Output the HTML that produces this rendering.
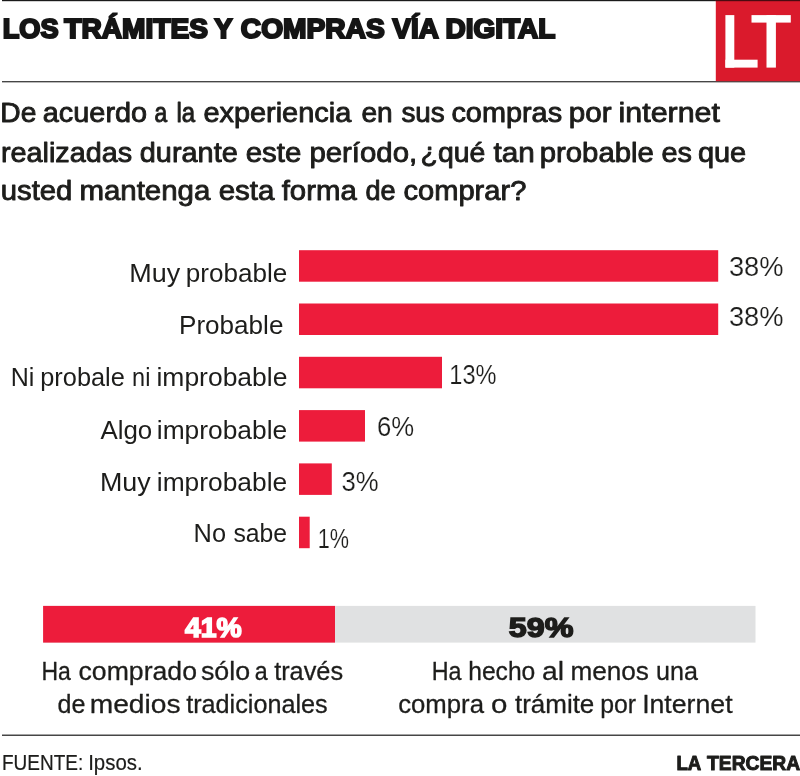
<!DOCTYPE html>
<html lang="es"><head><meta charset="utf-8"><title>Los trámites y compras vía digital</title>
<style>
html,body{margin:0;padding:0;background:#fff;}
body{width:800px;height:776px;overflow:hidden;font-family:"Liberation Sans",sans-serif;}
svg{display:block;}
svg text{font-family:"Liberation Sans",sans-serif;white-space:pre;}
</style></head>
<body>
<svg width="800" height="776" viewBox="0 0 800 776">
<rect x="0" y="0" width="800" height="776" fill="#ffffff"/>
<rect x="2" y="0" width="798" height="1.2" fill="#1a1a1a"/>
<rect x="2" y="81.2" width="798" height="1.1" fill="#1a1a1a"/>
<rect x="715.8" y="0" width="84.2" height="81.2" fill="#da1a2c"/>
<rect x="715.8" y="0" width="84.2" height="1.2" fill="#4a0a10"/>
<rect x="725.4" y="15.1" width="8.9" height="52.5" fill="#fff"/>
<rect x="725.4" y="59.7" width="32.2" height="7.9" fill="#fff"/>
<rect x="751.5" y="15.1" width="39.3" height="7.5" fill="#fff"/>
<rect x="766.5" y="15.1" width="9.4" height="52.5" fill="#fff"/>
<rect x="299" y="250.2" width="419.2" height="31.5" fill="#ed1c3b"/>
<rect x="299" y="303.5" width="419.2" height="31.5" fill="#ed1c3b"/>
<rect x="299" y="356.8" width="143" height="31.5" fill="#ed1c3b"/>
<rect x="299" y="410.1" width="66" height="31.5" fill="#ed1c3b"/>
<rect x="299" y="463.4" width="32.8" height="31.5" fill="#ed1c3b"/>
<rect x="299" y="516.7" width="10.7" height="31.5" fill="#ed1c3b"/>
<rect x="43.1" y="605.9" width="712.4" height="36.7" fill="#e0e1e2"/>
<rect x="43.1" y="605.9" width="291.9" height="36.7" fill="#ed1c3b"/>
<rect x="2" y="734.6" width="798" height="1.2" fill="#1a1a1a"/>
<g id="labels" style="will-change:transform">
<text transform="translate(2.74 38.45) scale(1.0090 1)" font-size="26.89" font-weight="bold" fill="#151515" stroke="#151515" stroke-width="2.091" stroke-linejoin="miter" stroke-miterlimit="2.5">LOS</text>
<text transform="translate(64.25 38.45) scale(1.0452 1)" font-size="26.89" font-weight="bold" fill="#151515" stroke="#151515" stroke-width="2.054" stroke-linejoin="miter" stroke-miterlimit="2.5">TRÁMITES</text>
<text transform="translate(214.45 38.45) scale(1.0000 1)" font-size="26.89" font-weight="bold" fill="#151515" stroke="#151515" stroke-width="2.100" stroke-linejoin="miter" stroke-miterlimit="2.5">Y</text>
<text transform="translate(240.80 38.45) scale(1.0477 1)" font-size="26.89" font-weight="bold" fill="#151515" stroke="#151515" stroke-width="2.051" stroke-linejoin="miter" stroke-miterlimit="2.5">COMPRAS</text>
<text transform="translate(392.55 38.45) scale(1.0317 1)" font-size="26.89" font-weight="bold" fill="#151515" stroke="#151515" stroke-width="2.067" stroke-linejoin="miter" stroke-miterlimit="2.5">VÍA</text>
<text transform="translate(445.51 38.45) scale(1.0416 1)" font-size="26.89" font-weight="bold" fill="#151515" stroke="#151515" stroke-width="2.057" stroke-linejoin="miter" stroke-miterlimit="2.5">DIGITAL</text>
<text transform="translate(0.30 122.05) scale(1.0263 1)" font-size="27.47" font-weight="normal" fill="#1d1d1b" stroke="#1d1d1b" stroke-width="0.888" stroke-linejoin="round">De</text>
<text transform="translate(42.80 122.05) scale(1.0511 1)" font-size="27.47" font-weight="normal" fill="#1d1d1b" stroke="#1d1d1b" stroke-width="0.878" stroke-linejoin="round">acuerdo</text>
<text transform="translate(154.62 122.05) scale(0.8267 1)" font-size="27.47" font-weight="normal" fill="#1d1d1b" stroke="#1d1d1b" stroke-width="0.985" stroke-linejoin="round">a</text>
<text transform="translate(176.38 122.05) scale(0.8719 1)" font-size="27.47" font-weight="normal" fill="#1d1d1b" stroke="#1d1d1b" stroke-width="0.962" stroke-linejoin="round">la</text>
<text transform="translate(203.40 122.05) scale(1.0527 1)" font-size="27.47" font-weight="normal" fill="#1d1d1b" stroke="#1d1d1b" stroke-width="0.877" stroke-linejoin="round">experiencia</text>
<text transform="translate(361.43 122.05) scale(1.0220 1)" font-size="27.47" font-weight="normal" fill="#1d1d1b" stroke="#1d1d1b" stroke-width="0.890" stroke-linejoin="round">en</text>
<text transform="translate(401.45 122.05) scale(1.0140 1)" font-size="27.47" font-weight="normal" fill="#1d1d1b" stroke="#1d1d1b" stroke-width="0.894" stroke-linejoin="round">sus</text>
<text transform="translate(451.40 122.05) scale(1.0512 1)" font-size="27.47" font-weight="normal" fill="#1d1d1b" stroke="#1d1d1b" stroke-width="0.878" stroke-linejoin="round">compras</text>
<text transform="translate(568.87 122.05) scale(1.0790 1)" font-size="27.47" font-weight="normal" fill="#1d1d1b" stroke="#1d1d1b" stroke-width="0.866" stroke-linejoin="round">por</text>
<text transform="translate(618.54 122.05) scale(1.1067 1)" font-size="27.47" font-weight="normal" fill="#1d1d1b" stroke="#1d1d1b" stroke-width="0.854" stroke-linejoin="round">internet</text>
<text transform="translate(0.90 161.55) scale(1.0480 1)" font-size="27.47" font-weight="normal" fill="#1d1d1b" stroke="#1d1d1b" stroke-width="0.879" stroke-linejoin="round">realizadas</text>
<text transform="translate(139.80 161.55) scale(1.0513 1)" font-size="27.47" font-weight="normal" fill="#1d1d1b" stroke="#1d1d1b" stroke-width="0.877" stroke-linejoin="round">durante</text>
<text transform="translate(245.78 161.55) scale(1.0702 1)" font-size="27.47" font-weight="normal" fill="#1d1d1b" stroke="#1d1d1b" stroke-width="0.869" stroke-linejoin="round">este</text>
<text transform="translate(309.38 161.55) scale(1.0707 1)" font-size="27.47" font-weight="normal" fill="#1d1d1b" stroke="#1d1d1b" stroke-width="0.869" stroke-linejoin="round">período,</text>
<text transform="translate(420.62 161.55) scale(1.0337 1)" font-size="27.47" font-weight="normal" fill="#1d1d1b" stroke="#1d1d1b" stroke-width="0.885" stroke-linejoin="round">¿qué</text>
<text transform="translate(493.45 161.55) scale(1.0811 1)" font-size="27.47" font-weight="normal" fill="#1d1d1b" stroke="#1d1d1b" stroke-width="0.865" stroke-linejoin="round">tan</text>
<text transform="translate(539.78 161.55) scale(1.0669 1)" font-size="27.47" font-weight="normal" fill="#1d1d1b" stroke="#1d1d1b" stroke-width="0.871" stroke-linejoin="round">probable</text>
<text transform="translate(661.40 161.55) scale(1.0485 1)" font-size="27.47" font-weight="normal" fill="#1d1d1b" stroke="#1d1d1b" stroke-width="0.879" stroke-linejoin="round">es</text>
<text transform="translate(697.90 161.55) scale(1.0549 1)" font-size="27.47" font-weight="normal" fill="#1d1d1b" stroke="#1d1d1b" stroke-width="0.876" stroke-linejoin="round">que</text>
<text transform="translate(0.78 199.75) scale(1.0659 1)" font-size="27.47" font-weight="normal" fill="#1d1d1b" stroke="#1d1d1b" stroke-width="0.871" stroke-linejoin="round">usted</text>
<text transform="translate(79.38 199.75) scale(1.0722 1)" font-size="27.47" font-weight="normal" fill="#1d1d1b" stroke="#1d1d1b" stroke-width="0.869" stroke-linejoin="round">mantenga</text>
<text transform="translate(218.68 199.75) scale(1.0747 1)" font-size="27.47" font-weight="normal" fill="#1d1d1b" stroke="#1d1d1b" stroke-width="0.868" stroke-linejoin="round">esta</text>
<text transform="translate(281.65 199.75) scale(1.0700 1)" font-size="27.47" font-weight="normal" fill="#1d1d1b" stroke="#1d1d1b" stroke-width="0.870" stroke-linejoin="round">forma</text>
<text transform="translate(365.46 199.75) scale(0.9871 1)" font-size="27.47" font-weight="normal" fill="#1d1d1b" stroke="#1d1d1b" stroke-width="0.906" stroke-linejoin="round">de</text>
<text transform="translate(403.39 199.75) scale(1.0598 1)" font-size="27.47" font-weight="normal" fill="#1d1d1b" stroke="#1d1d1b" stroke-width="0.874" stroke-linejoin="round">comprar?</text>
<text transform="translate(129.20 281.70) scale(1.0251 1)" font-size="26.31" font-weight="normal" fill="#1d1d1b">Muy</text>
<text transform="translate(185.76 281.70) scale(0.9928 1)" font-size="26.31" font-weight="normal" fill="#1d1d1b">probable</text>
<text transform="translate(179.02 334.10) scale(0.9918 1)" font-size="26.31" font-weight="normal" fill="#1d1d1b">Probable</text>
<text transform="translate(10.70 386.40) scale(0.9504 1)" font-size="26.31" font-weight="normal" fill="#1d1d1b">Ni</text>
<text transform="translate(40.24 386.40) scale(0.9640 1)" font-size="26.31" font-weight="normal" fill="#1d1d1b">probale</text>
<text transform="translate(132.11 386.40) scale(0.8913 1)" font-size="26.31" font-weight="normal" fill="#1d1d1b">ni</text>
<text transform="translate(156.49 386.40) scale(1.0064 1)" font-size="26.31" font-weight="normal" fill="#1d1d1b">improbable</text>
<text transform="translate(100.40 438.50) scale(0.9845 1)" font-size="26.31" font-weight="normal" fill="#1d1d1b">Algo</text>
<text transform="translate(156.80 438.50) scale(1.0018 1)" font-size="26.31" font-weight="normal" fill="#1d1d1b">improbable</text>
<text transform="translate(99.96 491.30) scale(1.0220 1)" font-size="26.31" font-weight="normal" fill="#1d1d1b">Muy</text>
<text transform="translate(156.80 491.30) scale(1.0018 1)" font-size="26.31" font-weight="normal" fill="#1d1d1b">improbable</text>
<text transform="translate(193.57 542.20) scale(0.9648 1)" font-size="26.31" font-weight="normal" fill="#1d1d1b">No</text>
<text transform="translate(233.40 542.20) scale(0.9415 1)" font-size="26.31" font-weight="normal" fill="#1d1d1b">sabe</text>
<text transform="translate(728.89 276.30) scale(1.0126 1)" font-size="27" font-weight="normal" fill="#1d1d1b" stroke="#ffffff" stroke-width="0.2" stroke-linejoin="round">38%</text>
<text transform="translate(728.89 325.60) scale(1.0126 1)" font-size="27" font-weight="normal" fill="#1d1d1b" stroke="#ffffff" stroke-width="0.2" stroke-linejoin="round">38%</text>
<text transform="translate(449.35 383.90) scale(0.8745 1)" font-size="27" font-weight="normal" fill="#1d1d1b" stroke="#ffffff" stroke-width="0.2" stroke-linejoin="round">13%</text>
<text transform="translate(376.95 435.60) scale(0.9522 1)" font-size="27" font-weight="normal" fill="#1d1d1b" stroke="#ffffff" stroke-width="0.2" stroke-linejoin="round">6%</text>
<text transform="translate(341.45 491.30) scale(0.9522 1)" font-size="27" font-weight="normal" fill="#1d1d1b" stroke="#ffffff" stroke-width="0.2" stroke-linejoin="round">3%</text>
<text transform="translate(317.80 547.60) scale(0.8024 1)" font-size="27" font-weight="normal" fill="#1d1d1b" stroke="#ffffff" stroke-width="0.2" stroke-linejoin="round">1%</text>
<text transform="translate(185.05 636.70) scale(1.0484 1)" font-size="27" font-weight="bold" fill="#ffffff" stroke="#ffffff" stroke-width="1.562" stroke-linejoin="miter" stroke-miterlimit="2.5">41%</text>
<text transform="translate(508.80 636.70) scale(1.1965 1)" font-size="27" font-weight="bold" fill="#1d1d1b" stroke="#1d1d1b" stroke-width="1.457" stroke-linejoin="miter" stroke-miterlimit="2.5">59%</text>
<text transform="translate(41.41 679.95) scale(0.8694 1)" font-size="26.45" font-weight="normal" fill="#1d1d1b" stroke="#1d1d1b" stroke-width="0.321" stroke-linejoin="round">Ha</text>
<text transform="translate(78.54 679.95) scale(1.0073 1)" font-size="26.45" font-weight="normal" fill="#1d1d1b" stroke="#1d1d1b" stroke-width="0.299" stroke-linejoin="round">comprado</text>
<text transform="translate(200.95 679.95) scale(1.0147 1)" font-size="26.45" font-weight="normal" fill="#1d1d1b" stroke="#1d1d1b" stroke-width="0.298" stroke-linejoin="round">sólo</text>
<text transform="translate(254.67 679.95) scale(0.8786 1)" font-size="26.45" font-weight="normal" fill="#1d1d1b" stroke="#1d1d1b" stroke-width="0.319" stroke-linejoin="round">a</text>
<text transform="translate(274.15 679.95) scale(0.9572 1)" font-size="26.45" font-weight="normal" fill="#1d1d1b" stroke="#1d1d1b" stroke-width="0.307" stroke-linejoin="round">través</text>
<text transform="translate(57.60 713.05) scale(0.9493 1)" font-size="26.45" font-weight="normal" fill="#1d1d1b" stroke="#1d1d1b" stroke-width="0.308" stroke-linejoin="round">de</text>
<text transform="translate(89.68 713.05) scale(1.0666 1)" font-size="26.45" font-weight="normal" fill="#1d1d1b" stroke="#1d1d1b" stroke-width="0.290" stroke-linejoin="round">medios</text>
<text transform="translate(186.15 713.05) scale(0.9534 1)" font-size="26.45" font-weight="normal" fill="#1d1d1b" stroke="#1d1d1b" stroke-width="0.307" stroke-linejoin="round">tradicionales</text>
<text transform="translate(431.79 679.95) scale(0.8818 1)" font-size="26.45" font-weight="normal" fill="#1d1d1b" stroke="#1d1d1b" stroke-width="0.319" stroke-linejoin="round">Ha</text>
<text transform="translate(468.22 679.95) scale(0.9313 1)" font-size="26.45" font-weight="normal" fill="#1d1d1b" stroke="#1d1d1b" stroke-width="0.311" stroke-linejoin="round">hecho</text>
<text transform="translate(542.08 679.95) scale(1.0693 1)" font-size="26.45" font-weight="normal" fill="#1d1d1b" stroke="#1d1d1b" stroke-width="0.290" stroke-linejoin="round">al</text>
<text transform="translate(570.41 679.95) scale(0.9900 1)" font-size="26.45" font-weight="normal" fill="#1d1d1b" stroke="#1d1d1b" stroke-width="0.302" stroke-linejoin="round">menos</text>
<text transform="translate(656.00 679.95) scale(0.9492 1)" font-size="26.45" font-weight="normal" fill="#1d1d1b" stroke="#1d1d1b" stroke-width="0.308" stroke-linejoin="round">una</text>
<text transform="translate(398.18 713.05) scale(0.9731 1)" font-size="26.45" font-weight="normal" fill="#1d1d1b" stroke="#1d1d1b" stroke-width="0.304" stroke-linejoin="round">compra</text>
<text transform="translate(491.03 713.05) scale(1.1154 1)" font-size="26.45" font-weight="normal" fill="#1d1d1b" stroke="#1d1d1b" stroke-width="0.284" stroke-linejoin="round">o</text>
<text transform="translate(514.95 713.05) scale(0.9820 1)" font-size="26.45" font-weight="normal" fill="#1d1d1b" stroke="#1d1d1b" stroke-width="0.303" stroke-linejoin="round">trámite</text>
<text transform="translate(600.21 713.05) scale(0.9383 1)" font-size="26.45" font-weight="normal" fill="#1d1d1b" stroke="#1d1d1b" stroke-width="0.310" stroke-linejoin="round">por</text>
<text transform="translate(642.13 713.05) scale(1.0090 1)" font-size="26.45" font-weight="normal" fill="#1d1d1b" stroke="#1d1d1b" stroke-width="0.299" stroke-linejoin="round">Internet</text>
<text transform="translate(2.02 770.30) scale(0.8833 1)" font-size="21.51" font-weight="normal" fill="#1d1d1b" stroke="#1d1d1b" stroke-width="0.212" stroke-linejoin="round">FUENTE:</text>
<text transform="translate(88.15 770.30) scale(0.9497 1)" font-size="21.51" font-weight="normal" fill="#1d1d1b" stroke="#1d1d1b" stroke-width="0.205" stroke-linejoin="round">Ipsos.</text>
<text transform="translate(676.40 770.10) scale(0.8957 1)" font-size="20.78" font-weight="bold" fill="#1d1d1b" stroke="#1d1d1b" stroke-width="1.055" stroke-linejoin="round">LA</text>
<text transform="translate(707.10 770.10) scale(0.9255 1)" font-size="20.78" font-weight="bold" fill="#1d1d1b" stroke="#1d1d1b" stroke-width="1.039" stroke-linejoin="round">TERCERA</text>
</g>
</svg>
</body></html>
